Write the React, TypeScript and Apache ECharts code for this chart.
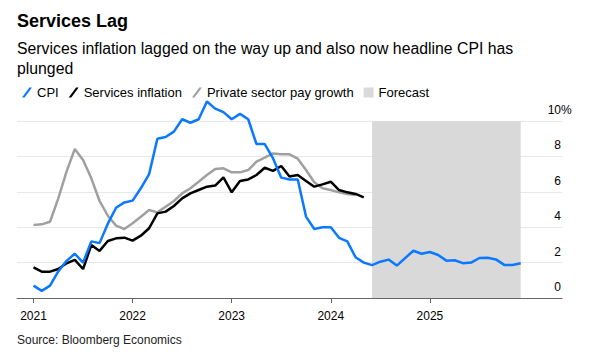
import React, { useEffect, useRef } from 'react';
import * as echarts from 'echarts';

// Monthly categories, Nov 2020 – May 2026
const firstMonth = '2020-11';
const lastMonth = '2026-05';
const months: string[] = [];
for (let y = 2020; y <= 2026; y++) {
  for (let m = 1; m <= 12; m++) {
    const key = `${y}-${String(m).padStart(2, '0')}`;
    if (key >= firstMonth && key <= lastMonth) months.push(key);
  }
}

const yearLabels = ['2021', '2022', '2023', '2024', '2025'];
const yTicks = [0, 2, 4, 6, 8, 10];

// CPI, Jan 2021 – May 2024 (actual)
const cpiActual = [
  0.7, 0.4, 0.7, 1.5, 2.1, 2.5, 2.0, 3.2, 3.1, 4.2, 5.1, 5.4,
  5.5, 6.2, 7.0, 9.0, 9.1, 9.4, 10.1, 9.9, 10.1, 11.1, 10.7, 10.5,
  10.1, 10.4, 10.1, 8.7, 8.7, 7.9, 6.8, 6.7, 6.7, 4.6, 3.9, 4.0,
  4.0, 3.4, 3.2, 2.3, 2.0,
];
// CPI forecast, Jun 2024 – Dec 2025
const cpiForecast = [
  1.86, 2.05, 2.17, 1.83, 2.25, 2.67, 2.5, 2.6, 2.43, 2.11, 2.13, 1.97,
  2.0, 2.26, 2.27, 2.18, 1.87, 1.86, 1.96,
];
// Services inflation, Jan 2021 – May 2024
const services = [
  1.73, 1.49, 1.49, 1.64, 1.96, 2.15, 1.64, 2.99, 2.66, 3.22, 3.37, 3.41,
  3.24, 3.52, 3.94, 4.78, 4.88, 5.2, 5.63, 5.91, 6.1, 6.29, 6.35, 6.82,
  5.97, 6.61, 6.7, 6.95, 7.36, 7.18, 7.46, 6.86, 6.95, 6.61, 6.29, 6.42,
  6.57, 6.1, 5.97, 5.88, 5.69,
];
// Private sector pay growth, Jan 2021 – Apr 2024
const payGrowth = [
  4.12, 4.16, 4.31, 5.63, 7.14, 8.42, 7.8, 6.76, 5.48, 4.65, 4.09, 3.9,
  4.22, 4.59, 4.97, 4.84, 5.16, 5.48, 5.91, 6.2, 6.57, 6.95, 7.29, 7.33,
  7.1, 7.1, 7.23, 7.7, 7.93, 8.17, 8.12, 8.12, 7.87, 7.23, 6.54, 6.2,
  6.1, 5.97, 5.88, 5.82,
];
const seriesStart = '2021-01';
const forecastStart = '2024-06';
const forecastEnd = '2025-12';

const FONT = '"Liberation Sans", Arial, Helvetica, sans-serif';

function align(values: number[], start: string): (number | null)[] {
  const out: (number | null)[] = months.map(() => null);
  const i0 = months.indexOf(start);
  values.forEach((v, i) => {
    out[i0 + i] = v;
  });
  return out;
}

const slash = 'path://M0,10L7.4,0L10,0L2.6,10Z';

export default function App() {
  const ref = useRef<HTMLDivElement>(null);
  useEffect(() => {
    document.body.style.margin = '0';
    if (!ref.current) return;
    const chart = echarts.init(ref.current, undefined, { renderer: 'svg' });
    const isYearTick = (_i: number, v: string) =>
      v.endsWith('-01') && yearLabels.includes(v.slice(0, 4));
    chart.setOption({
      animation: false,
      textStyle: { fontFamily: FONT },
      grid: { left: 17, right: 27, top: 121, bottom: 61, outerBoundsMode: 'none' },
      legend: {
        left: 17,
        top: 81,
        itemWidth: 10,
        itemHeight: 10,
        itemGap: 10,
        selectedMode: false,
        textStyle: { fontSize: 13, color: '#000', fontFamily: FONT },
        data: [
          { name: 'CPI', icon: slash },
          { name: 'Services inflation', icon: slash },
          { name: 'Private sector pay growth', icon: slash },
          { name: 'Forecast', icon: 'rect' },
        ],
      },
      xAxis: {
        type: 'category',
        data: months,
        boundaryGap: false,
        axisLine: { lineStyle: { color: '#666', width: 1 } },
        axisTick: { interval: isYearTick, length: 5, lineStyle: { color: '#666' } },
        axisLabel: {
          interval: isYearTick,
          formatter: (v: string) => v.slice(0, 4),
          fontSize: 12,
          color: '#000',
          margin: 12,
          fontFamily: FONT,
        },
        splitLine: { show: false },
      },
      yAxis: {
        type: 'value',
        position: 'right',
        min: yTicks[0],
        max: yTicks[yTicks.length - 1],
        interval: 2,
        axisLine: { show: false },
        axisTick: { show: false },
        axisLabel: {
          inside: true,
          margin: 1,
          fontSize: 12,
          color: '#000',
          verticalAlign: 'bottom',
          padding: [0, 0, 5, 0],
          fontFamily: FONT,
        },
        splitLine: { lineStyle: { color: '#e8e8e8', width: 1 } },
      },
      graphic: [
        {
          type: 'text',
          x: 17,
          y: 21,
          style: { text: 'Services Lag', fontSize: 18, fontWeight: 'bold', fontFamily: FONT, fill: '#000', verticalAlign: 'middle' },
        },
        {
          type: 'text',
          x: 17,
          y: 48,
          style: { text: 'Services inflation lagged on the way up and also now headline CPI has', fontSize: 15.8, fontFamily: FONT, fill: '#000', verticalAlign: 'middle' },
        },
        {
          type: 'text',
          x: 17,
          y: 68,
          style: { text: 'plunged', fontSize: 15.8, fontFamily: FONT, fill: '#000', verticalAlign: 'middle' },
        },
        {
          type: 'text',
          x: 561,
          y: 116,
          style: { text: '%', fontSize: 12, fontFamily: FONT, fill: '#000', verticalAlign: 'bottom', align: 'left' },
        },
        {
          type: 'text',
          x: 17,
          y: 340,
          style: { text: 'Source: Bloomberg Economics', fontSize: 12, fontFamily: FONT, fill: '#222', verticalAlign: 'middle' },
        },
      ],
      series: [
        {
          name: 'Forecast',
          type: 'line',
          data: [],
          itemStyle: { color: '#d9d9d9' },
          z: 1,
          markArea: {
            silent: true,
            itemStyle: { color: '#d9d9d9' },
            data: [[{ xAxis: forecastStart }, { xAxis: forecastEnd }]],
          },
        },
        {
          name: 'Private sector pay growth',
          type: 'line',
          data: align(payGrowth, seriesStart),
          symbol: 'none',
          clip: false,
          z: 2,
          itemStyle: { color: '#a0a0a0' },
          lineStyle: { color: '#a0a0a0', width: 2.5 },
        },
        {
          name: 'Services inflation',
          type: 'line',
          data: align(services, seriesStart),
          symbol: 'none',
          clip: false,
          z: 3,
          itemStyle: { color: '#000' },
          lineStyle: { color: '#000', width: 2.5 },
        },
        {
          name: 'CPI',
          type: 'line',
          data: align([...cpiActual, ...cpiForecast], seriesStart),
          symbol: 'none',
          clip: false,
          z: 4,
          itemStyle: { color: '#0a78ff' },
          lineStyle: { color: '#0a78ff', width: 2.5 },
        },
      ],
    });
    return () => chart.dispose();
  }, []);
  return <div ref={ref} style={{ width: 589, height: 359 }} />;
}
